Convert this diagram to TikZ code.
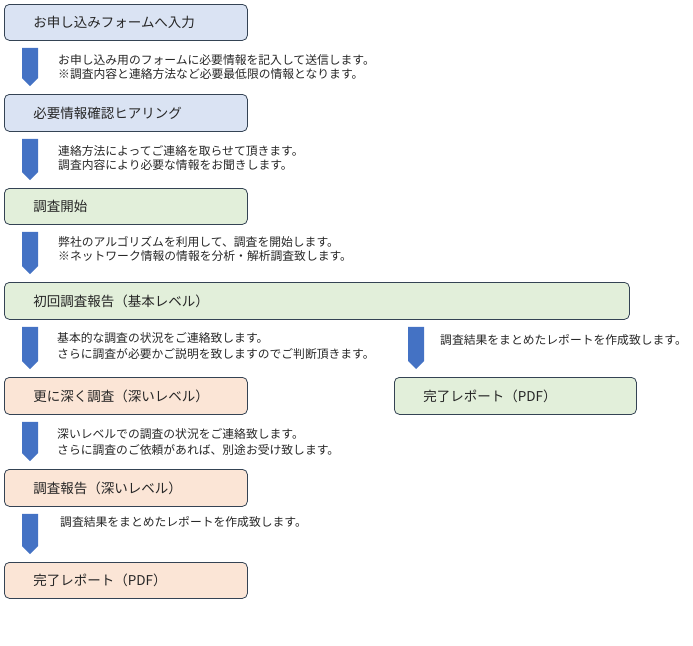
\documentclass[tikz,border=0pt]{standalone}
\usepackage{fontspec}
\setmainfont{Noto Sans CJK JP}
\usetikzlibrary{calc}
\definecolor{bluefill}{HTML}{DAE3F3}
\definecolor{greenfill}{HTML}{E2EFDA}
\definecolor{peachfill}{HTML}{FBE5D6}
\definecolor{boxline}{HTML}{344354}
\definecolor{arrowfill}{HTML}{4472C4}
\definecolor{txt}{HTML}{262626}
\tikzset{
  flowbox/.style={draw=boxline, line width=0.8pt, rounded corners=5pt, inner xsep=29pt, inner ysep=0pt,
    align=left, anchor=north west, text=txt, font=\fontsize{13.5}{16}\selectfont, minimum height=#1},
  flowbox/.default=36pt,
  desc/.style={anchor=west, align=left, inner sep=0pt, text=txt},
  descA/.style={desc, font=\fontsize{11.8}{13.8}\selectfont},
  descB/.style={desc, font=\fontsize{11.8}{16}\selectfont},
}
\newcommand{\flowarrow}[3]{%
  \path let \p1=($(#1.south west)+(#3,7)$), \p2=($(#2.north west)+(#3,-8)$) in
    [fill=arrowfill] (\x1-8pt,\y1) -- (\x1+8pt,\y1) -- (\x1+8pt,\y2+8pt) -- (\x1,\y2) -- (\x1-8pt,\y2+8pt) -- cycle;}
\begin{document}
\begin{tikzpicture}[x=1pt,y=-1pt]
\path[use as bounding box] (0,0) rectangle (693,645);
\node[flowbox, fill=bluefill, text width=185pt] (b1) at (4,4) {お申し込みフォームへ入力};
\node[flowbox=37pt, fill=bluefill, text width=185pt] (b2) at (4,94) {必要情報確認ヒアリング};
\node[flowbox, fill=greenfill, text width=185pt] (b3) at (4,188) {調査開始};
\node[flowbox=37pt, fill=greenfill, text width=567pt] (b4) at (4,282) {初回調査報告（基本レベル）};
\node[flowbox=37pt, fill=peachfill, text width=185pt] (b5) at (4,377) {更に深く調査（深いレベル）};
\node[flowbox=37pt, fill=greenfill, text width=184pt] (b5r) at (394,377) {完了レポート（PDF）};
\node[flowbox=37pt, fill=peachfill, text width=185pt] (b6) at (4,469) {調査報告（深いレベル）};
\node[flowbox, fill=peachfill, text width=185pt] (b7) at (4,562) {完了レポート（PDF）};

\flowarrow{b1}{b2}{26}
\flowarrow{b2}{b3}{26}
\flowarrow{b3}{b4}{26}
\flowarrow{b4}{b5}{26}
\flowarrow{b4}{b5r}{412}
\flowarrow{b5}{b6}{26}
\flowarrow{b6}{b7}{26}

\node[descA] (d1) at (58,67) {お申し込み用のフォームに必要情報を記入して送信します。\\※調査内容と連絡方法など必要最低限の情報となります。};
\node[descA] (d2) at (58,158) {連絡方法によってご連絡を取らせて頂きます。\\調査内容により必要な情報をお聞きします。};
\node[descA] (d3) at (58,249) {弊社のアルゴリズムを利用して、調査を開始します。\\※ネットワーク情報の情報を分析・解析調査致します。};
\node[descB] (d4) at (57,346) {基本的な調査の状況をご連絡致します。\\さらに調査が必要かご説明を致しますのでご判断頂きます。};
\node[descB] (d4r) at (440,340) {調査結果をまとめたレポートを作成致します。};
\node[descB] (d5) at (57,442) {深いレベルでの調査の状況をご連絡致します。\\さらに調査のご依頼があれば、別途お受け致します。};
\node[descB] (d6) at (60,522) {調査結果をまとめたレポートを作成致します。};
\end{tikzpicture}
\end{document}
